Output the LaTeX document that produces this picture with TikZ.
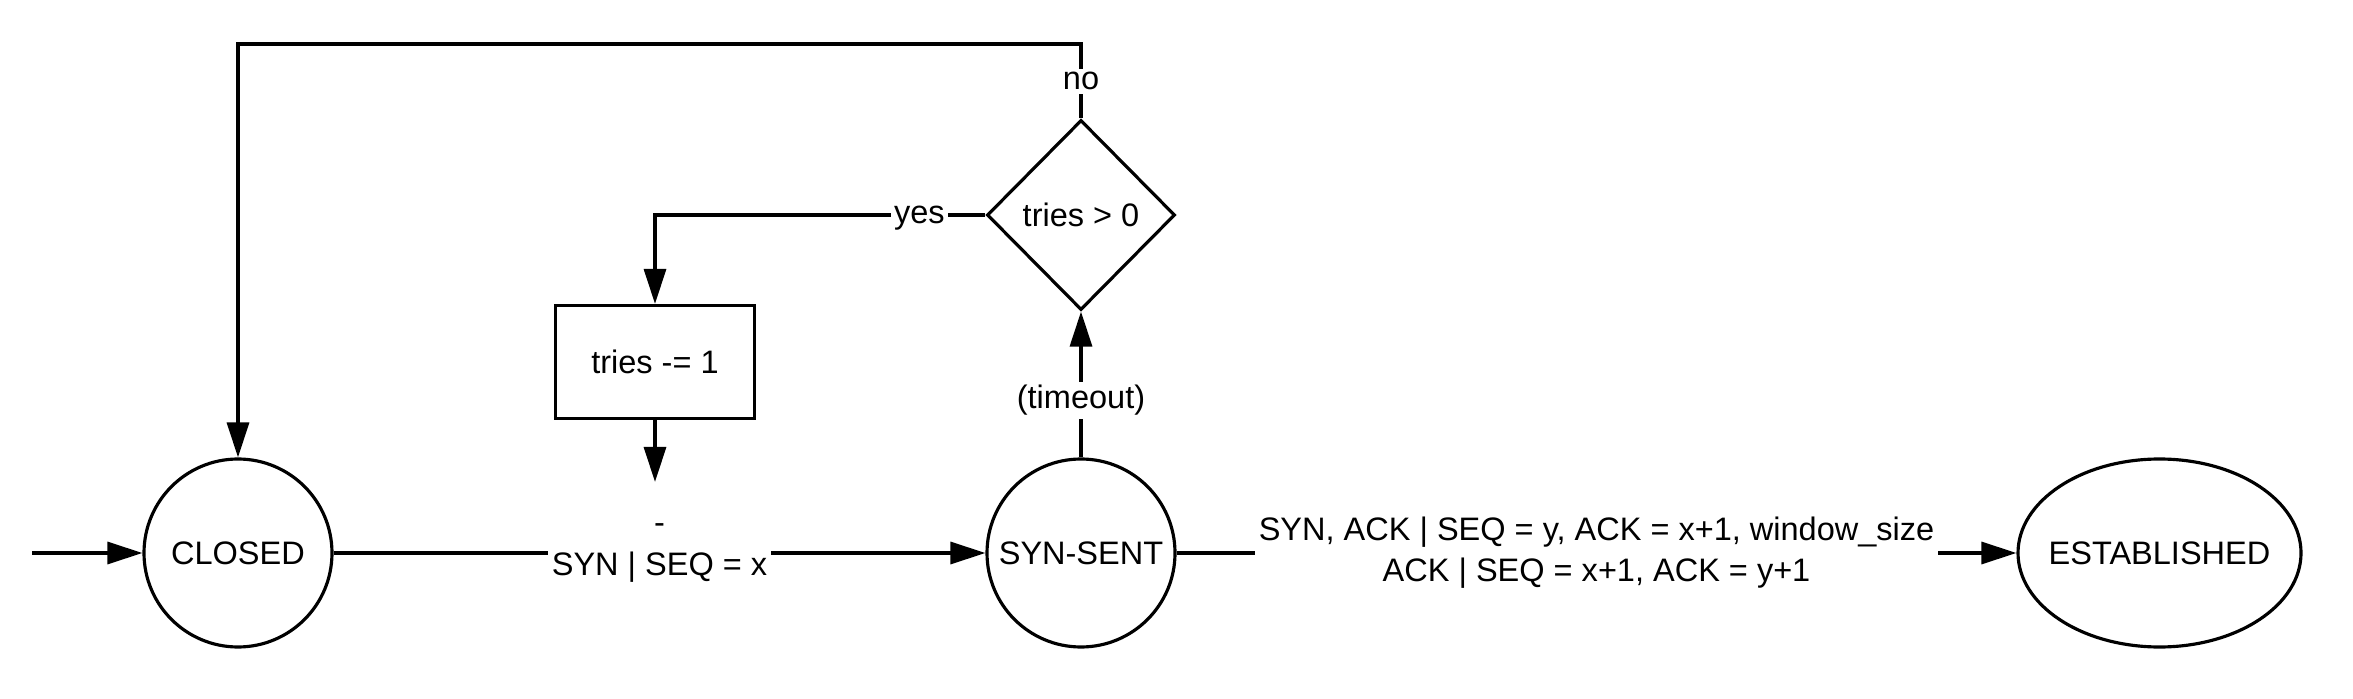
\documentclass[tikz,border=0pt]{standalone}
\usepackage{fontspec}
\setmainfont{Liberation Sans}
\usetikzlibrary{shapes.geometric,arrows.meta,positioning,calc}

\begin{document}
\begin{tikzpicture}[
    >={Triangle[length=3.5mm,width=2.2mm]},
    every node/.style={font=\fontsize{9.25pt}{11.7pt}\selectfont},
    state/.style={draw, circle, line width=0.9pt, minimum size=1.88cm, inner sep=0pt},
    decision/.style={draw, diamond, aspect=1, line width=0.9pt, minimum width=1.88cm, minimum height=1.9cm, inner sep=0pt},
    action/.style={draw, rectangle, line width=0.9pt, minimum width=1.99cm, minimum height=1.13cm},
    lbl/.style={fill=white, inner sep=1pt, align=center},
    edge/.style={->, line width=0.9pt}
]
\useasboundingbox (0,0) rectangle (23.53,-6.99);

% States
\coordinate (start) at (0.32,-5.53);
\node[state] (closed) at (2.38,-5.53) {CLOSED};
\node[state] (synsent) at (10.81,-5.53) {SYN-SENT};
\node[state, ellipse, inner xsep=-0.3cm, minimum width=2.83cm, minimum height=1.88cm] (established) at (21.595,-5.53) {ESTABLISHED};

% Retry check
\node[decision] (check) at (10.81,-2.15) {tries > 0};
\node[action] (decr) at (6.55,-3.62) {tries -= 1};
\coordinate (top) at (2.38,-0.44);

% Arrows
\draw[edge] (start) -- (closed);
\draw[edge] (closed) -- node[lbl] (synlbl) {-\\SYN | SEQ = x} (synsent);
\draw[edge] (synsent) -- node[lbl, pos=0.39] {(timeout)} (check);
\draw[edge] (check.west) -| node[lbl, pos=0.1, yshift=-1pt] {yes} (decr.north);
\draw[edge, shorten >=3.7mm] (decr.south) -- (decr.south |- synlbl.north);
\draw[edge] (check.north) -- node[lbl] {no} (check.north |- top) -| (closed.north);
\draw[edge] (synsent) -- node[lbl] {SYN, ACK | SEQ = y, ACK = x+1, window\_size\\ACK | SEQ = x+1, ACK = y+1} (established);

\end{tikzpicture}
\end{document}
